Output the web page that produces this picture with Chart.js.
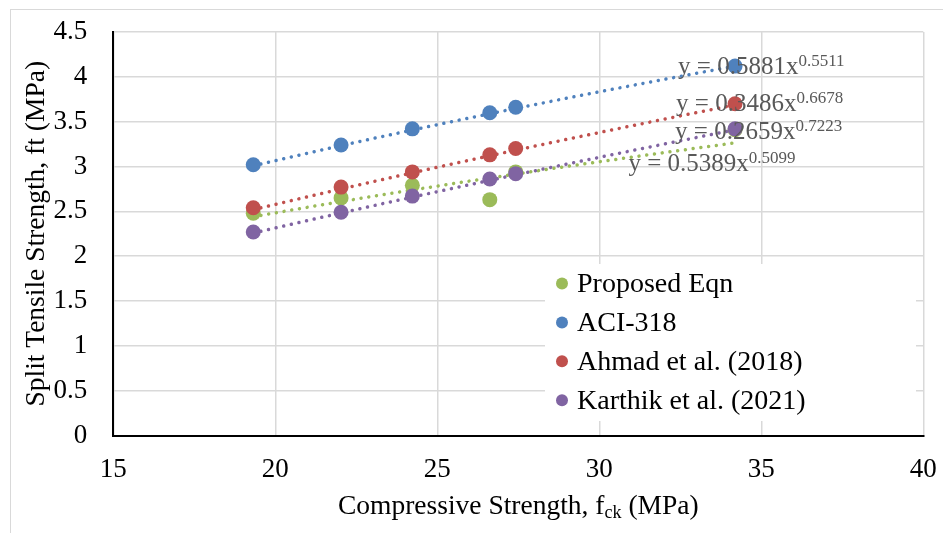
<!DOCTYPE html>
<html>
<head>
<meta charset="utf-8">
<script src="https://cdn.jsdelivr.net/npm/chart.js@4/dist/chart.umd.min.js"></script>
<style>
	html, body { margin: 0; padding: 0; background: #fff; }
	#wrap { width: 943px; height: 533px; }
</style>
</head>
<body>
<div id="wrap"><canvas id="chart" width="943" height="533"></canvas></div>
<script>
// compressive strength of the mixes (MPa)
const fck = [19.32, 22.03, 24.23, 26.62, 27.42, 34.19];

// split tensile strength (MPa) for each prediction model
const proposedEqn = [2.48, 2.65, 2.79, 2.63, 2.94, 3.41];
const aci318 = [3.02, 3.24, 3.42, 3.60, 3.66, 4.12];
const ahmad2018 = [2.54, 2.77, 2.94, 3.13, 3.20, 3.70];
const karthik2021 = [2.27, 2.49, 2.67, 2.86, 2.92, 3.42];

const seriesNames = ['Proposed Eqn', 'ACI-318', 'Ahmad et al. (2018)', 'Karthik et al. (2021)'];
const seriesValues = [proposedEqn, aci318, ahmad2018, karthik2021];
const seriesColors = ['#9BBB59', '#4F81BD', '#C0504D', '#8064A2'];

// power trendlines y = a * x^b
const fitCoef = ['0.5389', '0.5881', '0.3486', '0.2659'];
const fitExp = ['0.5099', '0.5511', '0.6678', '0.7223'];
// where each equation sits, in axis units (left edge, middle)
const fitLabelAt = [[30.9, 3.02], [32.43, 4.10], [32.37, 3.69], [32.34, 3.38]];

const xTicks = [15, 20, 25, 30, 35, 40];
const yTicks = [0, 0.5, 1, 1.5, 2, 2.5, 3, 3.5, 4, 4.5];

const FONT = "'Liberation Serif', serif";

function trendPoints(i) {
	let a = parseFloat(fitCoef[i]), b = parseFloat(fitExp[i]);
	let x0 = Math.min(...fck), x1 = Math.max(...fck);
	let pts = [];
	for (let k = 0; k <= 60; k++) {
		let x = x0 + (x1 - x0) * k / 60;
		pts.push({x: x, y: a * Math.pow(x, b)});
	}
	return pts;
}

let datasets = [];
for (let i = 0; i < seriesNames.length; i++) {
	datasets.push({
		label: seriesNames[i],
		data: fck.map((x, j) => ({x: x, y: seriesValues[i][j]})),
		backgroundColor: seriesColors[i],
		borderColor: seriesColors[i],
		pointRadius: 7.5,
		pointBorderWidth: 0,
		order: 4 - i
	});
}
for (let i = 0; i < seriesNames.length; i++) {
	datasets.push({
		label: 'trend-' + i,
		type: 'line',
		data: trendPoints(i),
		showLine: true,
		fill: false,
		borderColor: seriesColors[i],
		borderWidth: 3.5,
		borderDash: [0.01, 7.8],
		borderCapStyle: 'round',
		pointRadius: 0,
		tension: 0,
		order: 10
	});
}

// gray frame around the chart
const framePlugin = {
	id: 'frame',
	beforeDraw(chart) {
		let ctx = chart.ctx;
		ctx.save();
		ctx.fillStyle = '#fff';
		ctx.fillRect(0, 0, chart.width, chart.height);
		ctx.strokeStyle = '#d9d9d9';
		ctx.lineWidth = 1;
		ctx.strokeRect(10.5, 9.5, 1000, 1000);
		ctx.restore();
	}
};

// trendline equations, legend box and axis titles
const annotatePlugin = {
	id: 'annotate',
	afterDatasetsDraw(chart) {
		let ctx = chart.ctx;
		let xs = chart.scales.x, ys = chart.scales.y;
		ctx.save();

		// equations
		ctx.fillStyle = '#595959';
		ctx.textBaseline = 'middle';
		ctx.textAlign = 'left';
		for (let i = 0; i < fitCoef.length; i++) {
			let px = xs.getPixelForValue(fitLabelAt[i][0]);
			let py = ys.getPixelForValue(fitLabelAt[i][1]);
			ctx.font = '25px ' + FONT;
			let main = 'y = ' + fitCoef[i] + 'x';
			ctx.fillText(main, px, py);
			let w = ctx.measureText(main).width;
			ctx.font = '17px ' + FONT;
			ctx.fillText(fitExp[i], px + w, py - 6);
		}

		// legend
		let lx = 545, ly = 264;
		ctx.fillStyle = '#fff';
		ctx.fillRect(lx, ly, 371, 157);
		ctx.font = '28px ' + FONT;
		for (let i = 0; i < seriesNames.length; i++) {
			let cy = 283.5 + i * 38.9;
			ctx.fillStyle = seriesColors[i];
			ctx.beginPath();
			ctx.arc(562, cy, 6, 0, Math.PI * 2);
			ctx.fill();
			ctx.fillStyle = '#000';
			ctx.fillText(seriesNames[i], 577, cy + 1);
		}

		let area = chart.chartArea;
		// y title
		ctx.save();
		ctx.translate(37, (area.top + area.bottom) / 2);
		ctx.rotate(-Math.PI / 2);
		ctx.textAlign = 'center';
		ctx.font = '27.5px ' + FONT;
		ctx.fillStyle = '#000';
		ctx.fillText('Split Tensile Strength, ft (MPa)', 0, 0);
		ctx.restore();

		// x title with subscript
		let parts = [['Compressive Strength, f', '27.5px ', 0], ['ck', '18px ', 6], [' (MPa)', '27.5px ', 0]];
		let total = 0;
		for (let p of parts) {
			ctx.font = p[1] + FONT;
			total += ctx.measureText(p[0]).width;
		}
		let tx = (area.left + area.right) / 2 - total / 2;
		ctx.fillStyle = '#000';
		ctx.textAlign = 'left';
		for (let p of parts) {
			ctx.font = p[1] + FONT;
			ctx.fillText(p[0], tx, 507 + p[2]);
			tx += ctx.measureText(p[0]).width;
		}
		ctx.restore();
	}
};

let ctx = document.getElementById('chart').getContext('2d');
let chart = new Chart(ctx, {
	type: 'scatter',
	data: { datasets: datasets },
	options: {
		responsive: false,
		animation: false,
		events: [],
		layout: { padding: { left: 0, top: 32, right: 19.7, bottom: 0 } },
		plugins: {
			legend: { display: false },
			tooltip: { enabled: false }
		},
		scales: {
			x: {
				type: 'linear',
				min: 15,
				max: 40,
				afterBuildTicks: (scale) => { scale.ticks = xTicks.map(v => ({value: v})); },
				afterFit: (scale) => {
					scale.height = 97.5;
					scale.paddingLeft = 0;
					scale.paddingRight = 0;
				},
				ticks: {
					color: '#000',
					padding: 18,
					maxRotation: 0,
					font: { family: FONT, size: 27 },
					callback: (v) => String(v)
				},
				grid: { color: '#d9d9d9', lineWidth: 1.5, drawTicks: false },
				border: { color: '#000', width: 2 }
			},
			y: {
				type: 'linear',
				min: 0,
				max: 4.5,
				afterBuildTicks: (scale) => { scale.ticks = yTicks.map(v => ({value: v})); },
				afterFit: (scale) => {
					scale.width = 113.3;
					scale.paddingTop = 0;
					scale.paddingBottom = 0;
				},
				ticks: {
					color: '#000',
					padding: 26,
					font: { family: FONT, size: 27 },
					callback: (v) => String(v)
				},
				grid: { color: '#d9d9d9', lineWidth: 1.5, drawTicks: false },
				border: { color: '#000', width: 2 }
			}
		}
	},
	plugins: [framePlugin, annotatePlugin]
});
</script>
</body>
</html>
